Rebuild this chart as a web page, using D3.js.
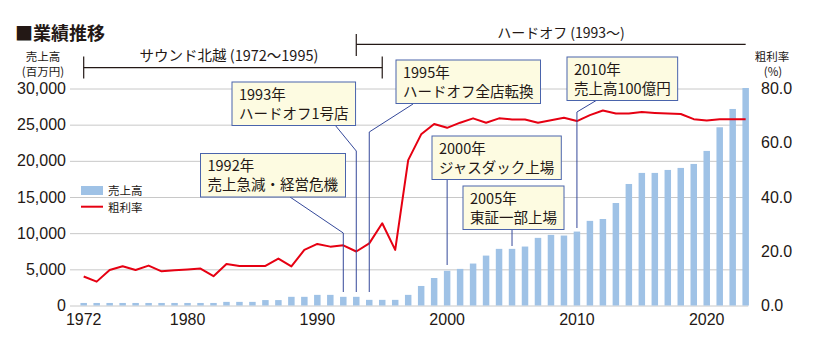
<!DOCTYPE html>
<html>
<head>
<meta charset="utf-8">
<script src="https://cdn.jsdelivr.net/npm/d3@7"></script>
<style>
  body { margin: 0; background: #fff; }
  svg { display: block; }
  .jp { font-family: "Noto Sans CJK JP", "Noto Sans", sans-serif; fill: #231815; }
  .num text { font-family: "Liberation Sans Narrow", "Liberation Sans", sans-serif; fill: #231815; }
</style>
</head>
<body>
<div id="chart"></div>
<script>
// data
const years = d3.range(1972, 2024);
const sales = [ // 売上高 (百万円)
  350, 350, 350, 350, 350, 350, 350, 350, 350, 350, 350,
  500, 500, 500, 750, 750, 1200, 1200, 1470, 1470, 1200, 1200,
  780, 780, 780, 1470, 2700, 3800, 4800, 5060, 5800, 6900, 7830,
  7830, 8150, 9350, 9760, 9670, 10220, 11700, 11960, 14170, 16800,
  18330, 18330, 18740, 19020, 19570, 21370, 24640, 27170, 30070
];
const margin = [ // 粗利率 (%)
  10.7, 8.8, 13.1, 14.5, 13.1, 14.7, 12.6, 13.0, 13.3, 13.6, 10.8,
  15.3, 14.6, 14.6, 14.6, 17.3, 14.4, 20.5, 22.7, 21.7, 22.2, 19.9,
  22.9, 30.3, 20.5, 53.6, 63.1, 66.9, 65.5, 67.4, 69.0, 67.4, 69.0,
  68.6, 68.6, 67.4, 68.3, 69.2, 68.0, 70.2, 71.9, 70.8, 70.8, 71.3,
  71.0, 70.8, 70.6, 68.7, 68.2, 68.7, 68.7, 68.7
];
const xTicks = [1972, 1980, 1990, 2000, 2010, 2020];
const salesTicks = [0, 5000, 10000, 15000, 20000, 25000, 30000];
const marginTicks = [0, 20, 40, 60, 80];

// annotations: year pointed at, text lines, box position
const notes = [
  {year: 1992, lines: ["1992年", "売上急減・経営危機"], x: 200.5, y: 153.5, from: [290, 197], bend: 233, end: 292},
  {year: 1993, lines: ["1993年", "ハードオフ1号店"], x: 232, y: 82, from: [335, 125], bend: 151, end: 292},
  {year: 1994, lines: ["1995年", "ハードオフ全店転換"], x: 396, y: 60, from: [413, 104], bend: 132, end: 292},
  {year: 2000, lines: ["2000年", "ジャスダック上場"], x: 432, y: 136, from: null, bend: 179, end: 265},
  {year: 2005, lines: ["2005年", "東証一部上場"], x: 463, y: 186, from: null, bend: 229, end: 246},
  {year: 2010, lines: ["2010年", "売上高100億円"], x: 567, y: 57, from: [597, 100], bend: 112, end: 228}
];

const W = 820, H = 351;
const svg = d3.select('#chart').append('svg')
  .attr('width', W)
  .attr('height', H);

const xScale = d3.scaleBand()
  .domain(years)
  .range([73.96, 755.4])
  .padding(0.5);
const xc = d => xScale(d) + xScale.bandwidth() / 2;

const ySales = d3.scaleLinear().domain([0, 30000]).range([305.5, 88.5]);
const yMargin = d3.scaleLinear().domain([0, 80]).range([305.5, 88.5]);

// left axis + gridlines
const gridRight = 748.3, gridLeft = 70;
svg.append('g')
  .attr('class', 'num')
  .attr('transform', `translate(${gridLeft},0)`)
  .call(d3.axisLeft(ySales).tickValues(salesTicks).tickFormat(d3.format(',')).tickSize(-(gridRight - gridLeft)).tickPadding(4))
  .call(g => g.select('.domain').remove())
  .call(g => g.selectAll('.tick line').attr('stroke', '#c8c8c8'))
  .call(g => g.selectAll('.tick text').attr('font-size', 16));

// right axis
svg.append('g')
  .attr('class', 'num')
  .attr('transform', `translate(757,0)`)
  .call(d3.axisRight(yMargin).tickValues(marginTicks).tickFormat(d3.format('.1f')).tickSize(0).tickPadding(4))
  .call(g => g.select('.domain').remove())
  .call(g => g.selectAll('.tick text').attr('font-size', 16));

// x axis
svg.append('g')
  .attr('class', 'num')
  .attr('transform', `translate(0,305.5)`)
  .call(d3.axisBottom(xScale).tickValues(xTicks).tickSize(0).tickPadding(8))
  .call(g => g.select('.domain').remove())
  .call(g => g.selectAll('.tick text').attr('font-size', 16));

// bars
svg.append('g').selectAll('rect')
  .data(years)
  .join('rect')
  .attr('x', d => xScale(d))
  .attr('width', xScale.bandwidth())
  .attr('y', (d, i) => ySales(sales[i]))
  .attr('height', (d, i) => ySales(0) - ySales(sales[i]))
  .attr('fill', '#9fc2e6');

// gross margin line
const line = d3.line()
  .x(d => xc(d))
  .y((d, i) => yMargin(margin[i]));
svg.append('path')
  .datum(years)
  .attr('d', line)
  .attr('fill', 'none')
  .attr('stroke', '#e60012')
  .attr('stroke-width', 2)
  .attr('stroke-linejoin', 'round');

// title
svg.append('text')
  .attr('class', 'jp')
  .attr('x', 15)
  .attr('y', 39.5)
  .attr('font-size', 18)
  .attr('font-weight', 'bold')
  .text('■業績推移');

// axis titles
const axisTitle = (x, y, t) => svg.append('text')
  .attr('class', 'jp')
  .attr('x', x).attr('y', y)
  .attr('text-anchor', 'middle')
  .attr('font-size', 11.5)
  .text(t);
axisTitle(43, 60.5, '売上高');
axisTitle(43, 75.5, '(百万円)');
axisTitle(772, 60.5, '粗利率');
axisTitle(773, 75.5, '(%)');

// period brackets
const bracket = svg.append('g').attr('stroke', '#231815').attr('stroke-width', 1.2);
bracket.append('line').attr('x1', xc(1972)).attr('x2', xc(1995)).attr('y1', 67.7).attr('y2', 67.7);
bracket.append('line').attr('x1', xc(1972)).attr('x2', xc(1972)).attr('y1', 56.5).attr('y2', 78.5);
bracket.append('line').attr('x1', xc(1995)).attr('x2', xc(1995)).attr('y1', 56.5).attr('y2', 78.5);
bracket.append('line').attr('x1', xc(1993)).attr('x2', xc(2023)).attr('y1', 44.3).attr('y2', 44.3);
bracket.append('line').attr('x1', xc(1993)).attr('x2', xc(1993)).attr('y1', 34).attr('y2', 56);

svg.append('text').attr('class', 'jp')
  .attr('x', (xc(1972) + xc(1995)) / 2 - 4).attr('y', 61)
  .attr('text-anchor', 'middle').attr('font-size', 14.5)
  .text('サウンド北越 (1972〜1995)');
svg.append('text').attr('class', 'jp')
  .attr('x', 561).attr('y', 38)
  .attr('text-anchor', 'middle').attr('font-size', 14)
  .text('ハードオフ (1993〜)');

// legend
svg.append('rect').attr('x', 81).attr('y', 186).attr('width', 22).attr('height', 9).attr('fill', '#9fc2e6');
svg.append('line').attr('x1', 81).attr('x2', 103).attr('y1', 206.7).attr('y2', 206.7)
  .attr('stroke', '#e60012').attr('stroke-width', 2);
svg.append('text').attr('class', 'jp').attr('x', 108).attr('y', 194.5).attr('font-size', 11.5).text('売上高');
svg.append('text').attr('class', 'jp').attr('x', 108).attr('y', 211.5).attr('font-size', 11.5).text('粗利率');

// annotation leaders
const leaders = svg.append('g');
notes.forEach(n => {
  const px = xc(n.year);
  const pts = n.from ? [n.from, [px, n.bend], [px, n.end]] : [[px, n.bend], [px, n.end]];
  leaders.append('path')
    .attr('d', d3.line()(pts))
    .attr('fill', 'none')
    .attr('stroke', '#34489a')
    .attr('stroke-width', 1);
});

// annotation boxes
notes.forEach(n => {
  const g = svg.append('g').attr('transform', `translate(${n.x},${n.y})`);
  const box = g.append('rect').attr('fill', '#fdfbe1').attr('stroke', '#4a64ac').attr('stroke-width', 1);
  const t = g.append('text').attr('class', 'jp').attr('font-size', 14.5);
  n.lines.forEach((s, i) => t.append('tspan').attr('x', 7).attr('y', 17.5 + i * 19.3).text(s));
  const bb = t.node().getBBox();
  box.attr('width', bb.width + 14).attr('height', 43.5);
});
</script>
</body>
</html>
